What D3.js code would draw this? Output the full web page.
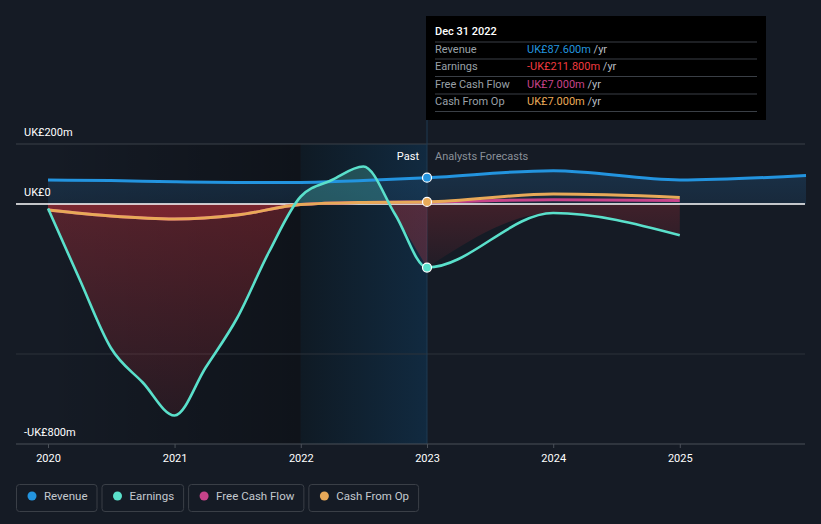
<!DOCTYPE html>
<html><head><meta charset="utf-8">
<script src="https://cdn.jsdelivr.net/npm/d3@7"></script>
<style>
html,body{margin:0;padding:0;background:#151b25;}
svg{display:block;font-family:Roboto,"Noto Sans",sans-serif;}
</style></head>
<body><svg id="chart" width="821" height="524"></svg>
<script>
// ---- data ----
const revenueDates = ["2020-01-01","2020-07-01","2021-01-01","2021-07-01","2022-01-01","2022-07-01","2023-01-01","2024-01-01","2025-01-01","2026-01-01"];
const revenueValues = [80,78,74,72,72,78,87.6,111,80,95];
const earningsDates = ["2020-01-01","2020-04-01","2020-07-01","2020-10-01","2021-01-01","2021-04-01","2021-07-01","2021-10-01","2022-01-01","2022-04-01","2022-07-01","2022-10-01","2023-01-01","2024-01-01","2025-01-01"];
const earningsValues = [-15,-250,-480,-595,-705,-545,-380,-160,25,80,125,-35,-211.8,-30,-104];
const cashDates = ["2020-01-01","2020-07-01","2021-01-01","2021-07-01","2022-01-01","2022-07-01","2023-01-01","2024-01-01","2025-01-01"];
const fcfValues = [-20,-40,-50,-37,-2,5,7,14,12];
const cfoValues = [-20,-40,-50,-37,-2,5,7,33,22];
const yTickValues = [200,0,-800];
const yTickLabels = ["UK£200m","UK£0","-UK£800m"];
const xTickYears = [2020,2021,2022,2023,2024,2025];
const legendNames = ["Revenue","Earnings","Free Cash Flow","Cash From Op"];
const colors = ["#2394df","#5ae0cb","#c6438a","#e8a958"];
const tooltipValues = ["UK£87.600m","-UK£211.800m","UK£7.000m","UK£7.000m"];

const parse = d3.timeParse("%Y-%m-%d");
const mk = (ds, vs) => ds.map((d,i)=>({date:parse(d), v:vs[i]}));
const revenue = mk(revenueDates, revenueValues);
const earnings = mk(earningsDates, earningsValues);
const fcf = mk(cashDates, fcfValues);
const cfo = mk(cashDates, cfoValues);

const svg = d3.select("#chart");
const x = d3.scaleTime().domain([parse("2020-01-01"), parse("2026-01-01")]).range([48, 806]);
const y = d3.scaleLinear().domain([-800, 200]).range([444, 144]);
const nowX = x(parse("2023-01-01"));
const left = 16, right = 805;

const defs = svg.append("defs");
const g1 = defs.append("linearGradient").attr("id","pastDark").attr("x1",0).attr("x2",1).attr("y1",0).attr("y2",0);
g1.append("stop").attr("offset",0).attr("stop-color","#000").attr("stop-opacity",0);
g1.append("stop").attr("offset",1).attr("stop-color","#000").attr("stop-opacity",0.3);
const g2 = defs.append("linearGradient").attr("id","pastHi").attr("x1",0).attr("x2",1).attr("y1",0).attr("y2",0);
g2.append("stop").attr("offset",0).attr("stop-color","#0f1a24").attr("stop-opacity",1);
g2.append("stop").attr("offset",1).attr("stop-color","#112a40").attr("stop-opacity",1);
const gr = defs.append("linearGradient").attr("id","redFill").attr("x1",0).attr("x2",0).attr("y1",0).attr("y2",1);
gr.append("stop").attr("offset",0).attr("stop-color","#c0303a").attr("stop-opacity",0.42);
gr.append("stop").attr("offset",1).attr("stop-color","#c0303a").attr("stop-opacity",0.12);
const gb = defs.append("linearGradient").attr("id","revFill").attr("x1",0).attr("x2",0).attr("y1",0).attr("y2",1);
gb.append("stop").attr("offset",0).attr("stop-color","#1f4a70").attr("stop-opacity",0.45);
gb.append("stop").attr("offset",1).attr("stop-color","#1f4a70").attr("stop-opacity",0.3);

// backgrounds
svg.append("rect").attr("x",48).attr("y",144).attr("width",x(parse("2022-01-01"))-48).attr("height",300).attr("fill","url(#pastDark)");
svg.append("rect").attr("x",x(parse("2022-01-01"))).attr("y",144).attr("width",nowX-x(parse("2022-01-01"))).attr("height",300).attr("fill","url(#pastHi)");

// grid lines
svg.append("line").attr("x1",left).attr("x2",right).attr("y1",y(200)).attr("y2",y(200)).attr("stroke","#3a4049").attr("stroke-width",1);
svg.append("line").attr("x1",left).attr("x2",right).attr("y1",y(-500)).attr("y2",y(-500)).attr("stroke","#2c323b").attr("stroke-width",1);

// vertical now line
svg.append("line").attr("x1",nowX).attr("x2",nowX).attr("y1",120).attr("y2",444).attr("stroke","#1e3a52").attr("stroke-width",1);

const curve = d3.curveMonotoneX;
// revenue area
svg.append("path").datum(revenue).attr("fill","url(#revFill)")
  .attr("d", d3.area().x(d=>x(d.date)).y0(y(0)).y1(d=>y(d.v)).curve(curve));

// earnings areas (negative red, positive teal)
defs.append("clipPath").attr("id","clipNeg").append("rect").attr("x",0).attr("y",y(0)).attr("width",821).attr("height",300);
defs.append("clipPath").attr("id","clipPos").append("rect").attr("x",0).attr("y",0).attr("width",821).attr("height",y(0));
const eArea = d3.area().x(d=>x(d.date)).y0(y(0)).y1(d=>y(d.v)).curve(curve);
const pastE = earnings.filter(d=>d.date<=parse("2023-01-01"));
const foreE = earnings.filter(d=>d.date>=parse("2023-01-01"));
svg.append("path").datum(pastE).attr("fill","url(#redFill)").attr("clip-path","url(#clipNeg)").attr("d",eArea);
svg.append("path").datum(foreE).attr("fill","url(#redFill)").attr("clip-path","url(#clipNeg)").attr("opacity",0.6).attr("d",eArea);
svg.append("path").datum(earnings).attr("fill","#5ae0cb").attr("fill-opacity",0.25).attr("clip-path","url(#clipPos)").attr("d",eArea);
// cfo negative area
svg.append("path").datum(cfo).attr("fill","#c0303a").attr("fill-opacity",0.35).attr("clip-path","url(#clipNeg)")
  .attr("d", d3.area().x(d=>x(d.date)).y0(y(0)).y1(d=>y(d.v)).curve(curve));

// zero line
svg.append("line").attr("x1",left).attr("x2",right).attr("y1",y(0)).attr("y2",y(0)).attr("stroke","#ffffff").attr("stroke-width",1.3);

// lines
const line = d3.line().x(d=>x(d.date)).y(d=>y(d.v)).curve(curve);
svg.append("path").datum(revenue).attr("fill","none").attr("stroke",colors[0]).attr("stroke-width",3).attr("d",line);
svg.append("path").datum(fcf).attr("fill","none").attr("stroke",colors[2]).attr("stroke-width",3).attr("d",line);
svg.append("path").datum(cfo).attr("fill","none").attr("stroke",colors[3]).attr("stroke-width",3).attr("d",line);
svg.append("path").datum(earnings).attr("fill","none").attr("stroke",colors[1]).attr("stroke-width",2.6).attr("d",line);

// markers at now
const nowDate = parse("2023-01-01");
[[revenue,colors[0]],[earnings,colors[1]],[cfo,colors[3]]].forEach(([s,c])=>{
  const p = s.find(d=>+d.date===+nowDate);
  svg.append("circle").attr("cx",x(p.date)).attr("cy",y(p.v)).attr("r",4.5).attr("fill",c).attr("stroke","#ffffff").attr("stroke-width",1.2);
});

// y labels
yTickValues.forEach((v,i)=>{
  svg.append("text").attr("x",24).attr("y",y(v)-8).attr("fill","#ffffff").attr("font-size",11).text(yTickLabels[i]);
});

// x axis
svg.append("line").attr("x1",left).attr("x2",right).attr("y1",444).attr("y2",444).attr("stroke","#4a5058").attr("stroke-width",1);
const xAxis = d3.axisBottom(x).tickValues(xTickYears.map(yy=>new Date(yy,0,1))).tickFormat(d3.timeFormat("%Y")).tickSize(4).tickPadding(6);
const ax = svg.append("g").attr("transform","translate(0,444)").call(xAxis);
ax.select(".domain").remove();
ax.selectAll(".tick line").attr("stroke","#4a5058");
ax.selectAll(".tick text").attr("fill","#ffffff").attr("font-size",11).attr("font-family","Roboto,sans-serif");

// Past / forecast labels
svg.append("text").attr("x",nowX-8).attr("y",160).attr("text-anchor","end").attr("fill","#ffffff").attr("font-size",11).text("Past");
svg.append("text").attr("x",nowX+8).attr("y",160).attr("fill","#8a9099").attr("font-size",11).text("Analysts Forecasts");

// tooltip
const tt = svg.append("g");
tt.append("rect").attr("x",426).attr("y",16).attr("width",340).attr("height",104).attr("fill","#000000");
tt.append("text").attr("x",435).attr("y",35).attr("fill","#ffffff").attr("font-size",11).attr("font-weight",500).text("Dec 31 2022");
const rowY = [53,70,88,105];
[42,59,76.5,94,111.5].forEach(ly=>tt.append("line").attr("x1",435).attr("x2",757).attr("y1",ly).attr("y2",ly).attr("stroke","#3a3f46").attr("stroke-width",1));
const ttValColors = [colors[0],"#f03a3f",colors[2],colors[3]];
legendNames.forEach((n,i)=>{
  tt.append("text").attr("x",435).attr("y",rowY[i]).attr("fill","#9aa0a8").attr("font-size",11).text(n);
  const t = tt.append("text").attr("x",527).attr("y",rowY[i]).attr("font-size",11);
  t.append("tspan").attr("fill",ttValColors[i]).text(tooltipValues[i]);
  t.append("tspan").attr("fill","#b8bdc4").text(" /yr");
});

// legend
const lg = svg.append("g");
let lx = 16;
legendNames.forEach((n,i)=>{
  const g = lg.append("g");
  const txt = g.append("text").attr("x",lx+28).attr("y",500).attr("fill","#c4c9cf").attr("font-size",11.5).text(n);
  const w = txt.node().getComputedTextLength() + 37;
  g.insert("rect","text").attr("x",lx+0.5).attr("y",484.5).attr("width",w).attr("height",27).attr("rx",3).attr("fill","none").attr("stroke","#3a3f47");
  g.append("circle").attr("cx",lx+16).attr("cy",496).attr("r",4.5).attr("fill",colors[i]);
  lx += w + 5;
});
</script></body></html>
